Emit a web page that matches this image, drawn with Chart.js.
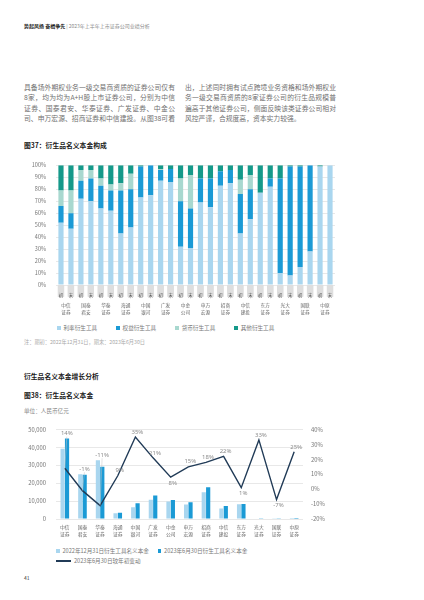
<!DOCTYPE html>
<html lang="zh-CN">
<head>
<meta charset="utf-8">
<title>衍生品名义本金</title>
<script src="https://cdn.jsdelivr.net/npm/chart.js"></script>
<style>
  html, body { margin: 0; padding: 0; background: #fff; }
  body {
    width: 424px; height: 600px; position: relative; overflow: hidden;
    font-family: "Noto Sans CJK SC", "Noto Sans", sans-serif; color: #555;
  }
  .t { position: absolute; white-space: nowrap; }
  .hd { left: 24px; top: 23px; font-size: 5px; line-height: 6px; color: #8a8a8a; }
  .hd b { color: #1a1a1a; }
  .para { position: absolute; top: 82px; width: 151px; font-size: 6.8px; line-height: 10.3px; color: #707070; }
  .para div { white-space: nowrap; text-align: justify; text-align-last: justify; }
  .para div.last { text-align-last: left; }
  .h { font-size: 6.8px; line-height: 8px; font-weight: bold; color: #1a1a1a; }
  .note { font-size: 5.2px; line-height: 6px; color: #a8a8a8; }
  .unit { font-size: 5.6px; line-height: 7px; color: #8a8a8a; }
  .wrap { position: absolute; }
  .legend { position: absolute; display: flex; flex-wrap: wrap; align-items: center;
            font-size: 5.6px; line-height: 6px; color: #777; }
  .legend .item { display: flex; align-items: center; white-space: nowrap; }
  .legend .box { width: 3.5px; height: 3.5px; margin-right: 3px; }
  .legend .ln { width: 15px; height: 1.3px; margin-right: 3px; }
</style>
</head>
<body>

<div class="t hd"><b>势起风扬 奋楫争先</b> | 2023年上半年上市证券公司业绩分析</div>

<div class="para" style="left:24px;">
  <div>具备场外期权业务一级交易商资质的证券公司仅有</div>
  <div>8家，均为均为A+H股上市证券公司，分别为中信</div>
  <div>证券、国泰君安、华泰证券、广发证券、中金公</div>
  <div>司、申万宏源、招商证券和中信建投。从图38可看</div>
</div>
<div class="para" style="left:185px;">
  <div>出，上述同时拥有试点跨境业务资格和场外期权业</div>
  <div>务一级交易商资质的8家证券公司的衍生品规模普</div>
  <div>遍高于其他证券公司，侧面反映该类证券公司相对</div>
  <div class="last">风控严谨，合规度高，资本实力较强。</div>
</div>

<div class="t h" style="left:24px; top:141px;">图37：衍生品名义本金构成</div>
<div class="wrap" style="left:18px; top:152px; width:325px; height:170px;"><canvas id="chart37"></canvas></div>
<div class="legend" id="legend37" style="left:57px; top:325px; column-gap:19px;"></div>
<div class="t note" style="left:24px; top:339px;">注：期初：2022年12月31日，期末：2023年6月30日</div>

<div class="t h" style="left:24px; top:372px;">衍生品名义本金增长分析</div>
<div class="t h" style="left:24px; top:391px;">图38：衍生品名义本金</div>
<div class="t unit" style="left:24px; top:408px;">单位：人民币亿元</div>
<div class="wrap" style="left:18px; top:416px; width:320px; height:126px;"><canvas id="chart38"></canvas></div>
<div class="legend" id="legend38" style="left:56px; top:548px; width:205px; column-gap:8.7px; row-gap:4px;"></div>

<div class="t" style="left:24px; top:575px; font-size:5px; line-height:6px; color:#333;">41</div>

<script>
// 公司（两图共用）
const companies = ['中信证券', '国泰君安', '华泰证券', '海通证券', '中国银河', '广发证券', '中金公司',
                   '申万宏源', '招商证券', '中信建投', '东方证券', '光大证券', '国联证券', '中原证券'];

// 图37：每家公司两根柱（期初、期末），单位 %
const periodTicks = ['期初', '期末'];
const mixNames = ['利率衍生工具', '权益衍生工具', '货币衍生工具', '其他衍生工具'];
const rateShare     = [52, 47, 72, 70, 64, 62, 43, 48, 73, 75, 87, 86, 32, 31, 69, 65, 83, 85, 43, 55, 77, 82, 10,  8, 15, 28, 99, 100];
const equityShare   = [14, 13, 15, 19, 19, 17, 36, 32, 26, 25,  9, 11, 38, 33, 20, 24, 12, 11, 33, 25,  0,  7, 79, 91, 84, 72,  0,   0];
const currencyShare = [13, 19,  9,  7,  6,  5,  6, 13,  0,  0,  1,  0, 19, 28,  0,  0,  0,  0, 12, 12,  0,  0,  0,  0,  0,  0,  0,   0];
const otherShare    = [21, 21,  4,  4, 11, 16, 15,  7,  1,  0,  3,  3, 11,  8, 11, 11,  5,  4, 12,  8, 23, 11, 11,  1,  1,  0,  1,   0];

// 图38：名义本金（亿元）及变动
const growthNames = ['2022年12月31日衍生工具名义本金', '2023年6月30日衍生工具名义本金', '2023年6月30日较年初变动'];
const notionalStart = [39300, 25000, 32800, 3200, 6500, 10800, 9800, 8100, 15000, 5900, 8300, 300, 400, 500];
const notionalEnd   = [44900, 24700, 29200, 3500, 8800, 13100, 10600, 9300, 17700, 7200, 8400, 400, 370, 620];
const changePct     = [14, -1, -11, 9, 35, 21, 8, 15, 18, 22, 1, 33, -7, 25];

const mixColors = ['#a9d6ef', '#1b9ad5', '#a8d8cf', '#15998a'];
const growthColors = ['#a9d6ef', '#1b9ad5', '#213b57'];

Chart.defaults.font.family = '"Noto Sans CJK SC", "Noto Sans", sans-serif';
Chart.defaults.color = '#777';
Chart.defaults.animation = false;

// 公司名拆成两行
const twoLines = name => [name.slice(0, 2), name.slice(2)];

function htmlLegend(id, chart) {
    const box = document.getElementById(id);
    chart.data.datasets.forEach(ds => {
        const item = document.createElement('div');
        item.className = 'item';
        const mark = document.createElement('span');
        mark.className = ds.type === 'line' ? 'ln' : 'box';
        mark.style.background = ds.type === 'line' ? ds.borderColor : ds.backgroundColor;
        item.appendChild(mark);
        item.appendChild(document.createTextNode(ds.label));
        box.appendChild(item);
    });
}

const noGrid = { display: false, drawTicks: false };

// ---- 图37 ----
const periodLabels = companies.flatMap(() => periodTicks.map(p => p.split('')));
const mixData = [rateShare, equityShare, currencyShare, otherShare];

const chart37 = new Chart(document.getElementById('chart37'), {
    type: 'bar',
    data: {
        labels: periodLabels,
        datasets: mixNames.map((name, i) => ({
            label: name,
            data: mixData[i],
            backgroundColor: mixColors[i],
            barPercentage: 0.52,
            categoryPercentage: 1
        }))
    },
    options: {
        responsive: true,
        maintainAspectRatio: false,
        layout: { padding: { left: 10, right: 8, top: 10, bottom: 3 } },
        plugins: { legend: { display: false }, tooltip: { enabled: false } },
        scales: {
            x: {
                stacked: true,
                grid: noGrid,
                border: { display: false },
                afterFit: s => { s.height = 16; },
                ticks: {
                    autoSkip: false, maxRotation: 0, padding: 3,
                    font: { size: 4.3, lineHeight: 1.2 }, color: '#555',
                    showLabelBackdrop: true, backdropColor: '#dedede', backdropPadding: 1
                }
            },
            x2: {
                type: 'category',
                labels: companies.map(twoLines),
                position: 'bottom',
                offset: true,
                grid: noGrid,
                border: { display: false },
                afterFit: s => { s.height = 18; },
                ticks: { autoSkip: false, maxRotation: 0, padding: 0, font: { size: 4.7, lineHeight: 1.6 }, color: '#666' }
            },
            y: {
                stacked: true,
                min: 0, max: 100,
                afterFit: s => { s.width = 28; },
                grid: { color: '#e8e8e8', drawTicks: false },
                border: { display: false },
                ticks: { stepSize: 10, padding: 10, font: { size: 5.5 }, callback: v => v + '%' }
            }
        }
    }
});
htmlLegend('legend37', chart37);

// ---- 图38 ----
const pctLabels = {
    id: 'pctLabels',
    afterDatasetsDraw(chart) {
        const ctx = chart.ctx;
        const line = chart.getDatasetMeta(2);
        const barsA = chart.getDatasetMeta(0);
        const barsB = chart.getDatasetMeta(1);
        ctx.save();
        ctx.font = '6px "Noto Sans", sans-serif';
        ctx.fillStyle = '#8c8c8c';
        ctx.strokeStyle = '#c4c4c4';
        ctx.lineWidth = 0.5;
        ctx.textAlign = 'center';
        line.data.forEach((pt, i) => {
            const v = changePct[i];
            const prev = changePct[i - 1], next = changePct[i + 1];
            const dip = (prev === undefined || v < prev) && (next === undefined || v < next);
            const barTop = Math.min(barsA.data[i].y, barsB.data[i].y);
            let y;
            if (dip && barTop > pt.y + 6) {
                ctx.textBaseline = 'top';
                y = pt.y + 3;
            } else {
                ctx.textBaseline = 'bottom';
                y = Math.min(pt.y, barTop) - 2;
                if (pt.y - y > 12) {
                    ctx.beginPath();
                    ctx.moveTo(pt.x, pt.y);
                    ctx.lineTo(pt.x + 2, y);
                    ctx.stroke();
                }
            }
            ctx.fillText(v + '%', pt.x + 2, y);
        });
        ctx.restore();
    }
};

const chart38 = new Chart(document.getElementById('chart38'), {
    type: 'bar',
    data: {
        labels: companies.map(twoLines),
        datasets: [
            { label: growthNames[0], data: notionalStart, backgroundColor: growthColors[0],
              yAxisID: 'y', order: 1, barPercentage: 0.95, categoryPercentage: 0.5 },
            { label: growthNames[1], data: notionalEnd, backgroundColor: growthColors[1],
              yAxisID: 'y', order: 1, barPercentage: 0.95, categoryPercentage: 0.5 },
            { type: 'line', label: growthNames[2], data: changePct, borderColor: growthColors[2],
              backgroundColor: growthColors[2], borderWidth: 1.4, pointRadius: 0, tension: 0,
              yAxisID: 'y1', order: 0 }
        ]
    },
    options: {
        responsive: true,
        maintainAspectRatio: false,
        layout: { padding: { left: 10, right: 5, top: 10.7, bottom: 2 } },
        plugins: { legend: { display: false }, tooltip: { enabled: false } },
        scales: {
            x: {
                grid: noGrid,
                border: { display: false },
                afterFit: s => { s.height = 21; },
                ticks: { autoSkip: false, maxRotation: 0, padding: 4, font: { size: 4.8, lineHeight: 1.6 }, color: '#666' }
            },
            y: {
                position: 'left',
                min: 0, max: 50000,
                afterFit: s => { s.width = 28; },
                grid: { color: '#e8e8e8', drawTicks: false },
                border: { display: false },
                ticks: { stepSize: 5000, padding: 10, font: { size: 5.8 },
                         callback: v => v.toLocaleString('en-US') }
            },
            y1: {
                position: 'right',
                min: -20, max: 40,
                afterFit: s => { s.width = 30; },
                grid: { drawOnChartArea: false, drawTicks: false },
                border: { display: false },
                ticks: { stepSize: 10, padding: 8, font: { size: 5.8 }, callback: v => v + '%' }
            }
        }
    },
    plugins: [pctLabels]
});
htmlLegend('legend38', chart38);
</script>
</body>
</html>
